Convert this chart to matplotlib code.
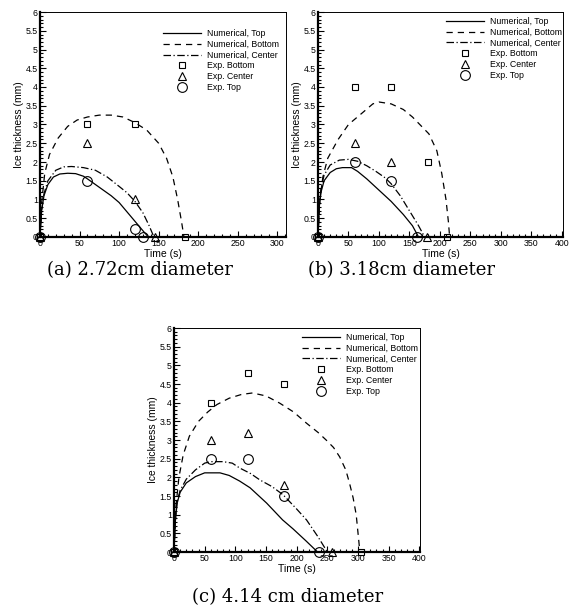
import matplotlib
matplotlib.use("Agg")
import matplotlib.pyplot as plt
from matplotlib.ticker import MultipleLocator, FormatStrFormatter

plt.rcParams["font.family"] = ["Liberation Sans", "DejaVu Sans"]

# ---- panel (a): 2.72 cm ----
a_num_top_t = [0, 2, 5, 10, 17, 25, 35, 45, 55, 60, 70, 80, 90, 100, 110, 120, 130, 137]
a_num_top_y = [0, 0.7, 1.1, 1.4, 1.6, 1.68, 1.7, 1.69, 1.62, 1.55, 1.4, 1.25, 1.1, 0.92, 0.67, 0.42, 0.17, 0]
a_num_ctr_t = [0, 2, 5, 10, 20, 30, 40, 55, 70, 85, 100, 110, 120, 130, 138, 144]
a_num_ctr_y = [0, 0.7, 1.15, 1.5, 1.78, 1.87, 1.88, 1.85, 1.78, 1.6, 1.35, 1.18, 0.95, 0.65, 0.3, 0]
a_num_bot_t = [0, 2, 6, 12, 23, 35, 47, 60, 75, 90, 105, 120, 135, 150, 160, 168, 174, 179, 182]
a_num_bot_y = [0, 0.9, 1.7, 2.2, 2.64, 2.95, 3.12, 3.2, 3.25, 3.25, 3.2, 3.05, 2.85, 2.5, 2.1, 1.6, 1.0, 0.4, 0]
a_exp_bot_t = [0, 60, 120, 183]
a_exp_bot_y = [0, 3.0, 3.0, 0]
a_exp_ctr_t = [0, 60, 120, 145]
a_exp_ctr_y = [0, 2.5, 1.0, 0]
a_exp_top_t = [0, 60, 120, 130]
a_exp_top_y = [0, 1.5, 0.2, 0]

# ---- panel (b): 3.18 cm ----
b_num_top_t = [0, 2, 5, 10, 20, 30, 40, 55, 65, 80, 100, 120, 140, 155, 165]
b_num_top_y = [0, 0.8, 1.2, 1.5, 1.72, 1.82, 1.85, 1.85, 1.75, 1.55, 1.25, 0.95, 0.6, 0.3, 0]
b_num_ctr_t = [0, 2, 5, 10, 20, 35, 50, 65, 80, 95, 110, 120, 135, 150, 165, 175]
b_num_ctr_y = [0, 0.8, 1.3, 1.65, 1.92, 2.05, 2.07, 2.02, 1.9, 1.75, 1.58, 1.42, 1.1, 0.7, 0.3, 0]
b_num_bot_t = [0, 3, 8, 16, 33, 50, 72, 90, 100, 120, 140, 155, 170, 182, 195, 203, 210, 214, 216]
b_num_bot_y = [0, 1.0, 1.6, 2.1, 2.6, 3.0, 3.3, 3.55, 3.6, 3.55, 3.4, 3.2, 2.95, 2.75, 2.3, 1.7, 1.0, 0.4, 0]
b_exp_bot_t = [0, 60, 120, 180, 211]
b_exp_bot_y = [0, 4.0, 4.0, 2.0, 0]
b_exp_ctr_t = [0, 60, 120, 179]
b_exp_ctr_y = [0, 2.5, 2.0, 0]
b_exp_top_t = [0, 60, 120, 162]
b_exp_top_y = [0, 2.0, 1.5, 0]

# ---- panel (c): 4.14 cm ----
c_num_top_t = [0, 2, 5, 10, 20, 35, 50, 75, 90, 107, 124, 151, 177, 194, 215, 234]
c_num_top_y = [0, 0.8, 1.3, 1.6, 1.85, 2.02, 2.12, 2.12, 2.05, 1.9, 1.72, 1.31, 0.86, 0.62, 0.3, 0]
c_num_ctr_t = [0, 2, 5, 10, 20, 35, 50, 60, 80, 95, 107, 125, 140, 160, 178, 200, 216, 235, 250]
c_num_ctr_y = [0, 0.8, 1.35, 1.65, 1.95, 2.2, 2.38, 2.42, 2.42, 2.38, 2.25, 2.1, 1.93, 1.75, 1.53, 1.15, 0.86, 0.4, 0]
c_num_bot_t = [0, 3, 8, 15, 25, 40, 55, 70, 90, 110, 128, 150, 172, 195, 216, 235, 248, 260, 270, 280, 286, 292, 297, 300, 303]
c_num_bot_y = [0, 1.2, 2.0, 2.6, 3.1, 3.5, 3.75, 3.95, 4.12, 4.22, 4.26, 4.18, 3.99, 3.75, 3.45, 3.2, 3.0, 2.8, 2.55, 2.2, 1.85, 1.45, 1.0, 0.5, 0]
c_exp_bot_t = [0, 60, 120, 180, 305]
c_exp_bot_y = [0, 4.0, 4.8, 4.5, 0]
c_exp_ctr_t = [0, 60, 120, 180, 258]
c_exp_ctr_y = [0, 3.0, 3.2, 1.8, 0]
c_exp_top_t = [0, 60, 120, 180, 236]
c_exp_top_y = [0, 2.5, 2.5, 1.5, 0]

captions = ["(a) 2.72cm diameter", "(b) 3.18cm diameter", "(c) 4.14 cm diameter"]


def draw_panel(ax, num_top, num_ctr, num_bot, exp_bot, exp_ctr, exp_top, xmax, xticks_max, legend_anchor):
    ax.plot(*num_top, color="black", lw=0.9, ls="-", label="Numerical, Top")
    ax.plot(*num_bot, color="black", lw=0.9, ls=(0, (5, 4)), label="Numerical, Bottom")
    ax.plot(*num_ctr, color="black", lw=0.9, ls=(0, (6, 2, 1, 2)), label="Numerical, Center")
    mk = dict(ls="none", mfc="none", mec="black", mew=0.8, clip_on=False, zorder=5)
    ax.plot(*exp_bot, marker="s", ms=5, label="Exp. Bottom", **mk)
    ax.plot(*exp_ctr, marker="^", ms=6, label="Exp. Center", **mk)
    ax.plot(*exp_top, marker="o", ms=7, label="Exp. Top", **mk)

    ax.set_xlim(0, xmax)
    ax.set_ylim(0, 6)
    ax.set_xticks(range(0, xticks_max + 1, 50))
    ax.xaxis.set_minor_locator(MultipleLocator(10))
    ax.yaxis.set_major_locator(MultipleLocator(0.5))
    ax.yaxis.set_minor_locator(MultipleLocator(0.1))
    ax.yaxis.set_major_formatter(FormatStrFormatter("%g"))
    ax.tick_params(which="both", direction="in", top=False, right=False, labelsize=6.3, pad=1.5, width=0.8)
    ax.tick_params(which="major", length=4)
    ax.tick_params(which="minor", length=2.2)
    for side in ("left", "bottom"):
        ax.spines[side].set_linewidth(1.6)
    for side in ("top", "right"):
        ax.spines[side].set_linewidth(0.7)
    ax.set_xlabel("Time (s)", fontsize=7.5, labelpad=0.5)
    ax.set_ylabel("Ice thickness (mm)", fontsize=7.4, labelpad=1)
    ax.legend(loc="upper right", bbox_to_anchor=legend_anchor, frameon=False, fontsize=6.3,
              handlelength=4.35, handletextpad=0.7, labelspacing=0.2, borderpad=0, borderaxespad=0)


fig = plt.figure(figsize=(5.7, 6.14), dpi=100)
ax_a = fig.add_axes([40 / 570, 1 - 237 / 614, 246 / 570, 225 / 614])
ax_b = fig.add_axes([318 / 570, 1 - 237 / 614, 245 / 570, 225 / 614])
ax_c = fig.add_axes([174 / 570, 1 - 552 / 614, 246 / 570, 224 / 614])

draw_panel(ax_a, (a_num_top_t, a_num_top_y), (a_num_ctr_t, a_num_ctr_y), (a_num_bot_t, a_num_bot_y),
           (a_exp_bot_t, a_exp_bot_y), (a_exp_ctr_t, a_exp_ctr_y), (a_exp_top_t, a_exp_top_y), 311, 300,
           (0.972, 0.924))
draw_panel(ax_b, (b_num_top_t, b_num_top_y), (b_num_ctr_t, b_num_ctr_y), (b_num_bot_t, b_num_bot_y),
           (b_exp_bot_t, b_exp_bot_y), (b_exp_ctr_t, b_exp_ctr_y), (b_exp_top_t, b_exp_top_y), 402, 400,
           (0.996, 0.978))
draw_panel(ax_c, (c_num_top_t, c_num_top_y), (c_num_ctr_t, c_num_ctr_y), (c_num_bot_t, c_num_bot_y),
           (c_exp_bot_t, c_exp_bot_y), (c_exp_ctr_t, c_exp_ctr_y), (c_exp_top_t, c_exp_top_y), 401, 400,
           (0.992, 0.978))

cap_font = dict(family="DejaVu Serif", fontsize=13, ha="center", va="center")
fig.text(140 / 570, 1 - 270 / 614, captions[0], **cap_font)
fig.text(402 / 570, 1 - 270 / 614, captions[1], **cap_font)
fig.text(288 / 570, 1 - 597 / 614, captions[2], **cap_font)

fig.savefig("out.png", dpi=100)
